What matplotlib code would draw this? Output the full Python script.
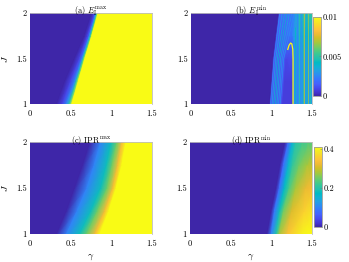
import numpy as np
import matplotlib
matplotlib.use('Agg')
import matplotlib.pyplot as plt
from matplotlib.colors import LinearSegmentedColormap, Normalize
from matplotlib.collections import LineCollection
from matplotlib.cm import ScalarMappable

plt.rcParams['font.family'] = 'serif'
plt.rcParams['font.serif'] = ['cmr10']
plt.rcParams['mathtext.fontset'] = 'cm'
plt.rcParams['axes.formatter.use_mathtext'] = True

# ---------------- data ----------------
gamma_ticks = [0, 0.5, 1, 1.5]
gamma_ticklabels = ['0', '0.5', '1', '1.5']
J_ticks = [1, 1.5, 2]
J_ticklabels = ['1', '1.5', '2']

J_rows = [1.0, 1.25, 1.5, 1.75, 2.0]

# (a) E_I^max : node positions (gamma) per J row and values at them
a_gamma = [[0, 0.33, 0.40, 0.45, 0.485, 0.515, 1.5],
           [0, 0.43, 0.50, 0.55, 0.57, 0.595, 1.5],
           [0, 0.55, 0.61, 0.64, 0.655, 0.675, 1.5],
           [0, 0.67, 0.71, 0.73, 0.745, 0.76, 1.5],
           [0, 0.76, 0.795, 0.81, 0.822, 0.837, 1.5]]
a_val = [[0, 0, 0.0009, 0.0025, 0.005, 0.011, 0.011]] * 5

# (b) E_I^min background field
b_gamma = [[0, 0.975, 0.99, 1.11, 1.14, 1.255, 1.275, 1.5],
           [0, 0.995, 1.01, 1.13, 1.16, 1.255, 1.275, 1.5],
           [0, 1.015, 1.03, 1.15, 1.18, 1.255, 1.275, 1.5],
           [0, 1.05, 1.065, 1.20, 1.22, 1.255, 1.275, 1.5],
           [0, 1.085, 1.10, 1.25, 1.265, 1.28, 1.30, 1.5]]
b_val = [[0, 0, 0.0014, 0.0014, 0.0007, 0.0007, 0.0026, 0.0033],
         [0, 0, 0.0014, 0.0014, 0.0007, 0.0007, 0.0026, 0.0033],
         [0, 0, 0.0014, 0.0014, 0.0009, 0.0011, 0.0026, 0.0033],
         [0, 0, 0.0015, 0.0018, 0.0020, 0.0022, 0.0028, 0.0040],
         [0, 0, 0.0016, 0.0020, 0.0022, 0.0026, 0.0032, 0.0050]]
# (b) ring stripes (left band): gamma at J = 1, 1.5, 2
b_ring_J = [1.0, 1.5, 2.0]
b_ring_gamma = [[0.985, 1.03, 1.10],
                [1.005, 1.05, 1.13],
                [1.025, 1.07, 1.16],
                [1.045, 1.09, 1.19],
                [1.065, 1.11, 1.22],
                [1.085, 1.13, 1.25],
                [1.105, 1.15, 1.28]]
b_ring_val = [0.0025, 0.0033, 0.0038, 0.004, 0.0035, 0.003, 0.0027]
# (b) vertical stripes at the right
b_vert_gamma = [1.29, 1.31, 1.335, 1.36, 1.385, 1.405, 1.43, 1.455, 1.48]
b_vert_top = [1.85, 2.0, 2.0, 2.0, 2.0, 2.0, 2.0, 2.0, 2.0]
b_vert_val = [0.0042, 0.0025, 0.0048, 0.003, 0.0052, 0.0072, 0.0038, 0.0066, 0.0048]
# (b) bright arch
b_arch_gamma = [1.265, 1.265, 1.262, 1.25, 1.235, 1.215, 1.20]
b_arch_J = [1.0, 1.5, 1.6, 1.66, 1.67, 1.645, 1.60]
b_arch_val = 0.0105

# (c) IPR^max
c_gamma = [[0, 0.33, 0.45, 0.61, 0.70, 0.80, 0.86, 1.5],
           [0, 0.45, 0.58, 0.75, 0.83, 0.92, 0.97, 1.5],
           [0, 0.55, 0.70, 0.87, 0.95, 1.02, 1.06, 1.5],
           [0, 0.65, 0.79, 0.94, 1.01, 1.08, 1.13, 1.5],
           [0, 0.74, 0.87, 1.00, 1.07, 1.13, 1.18, 1.5]]
c_val = [[0, 0, 0.1, 0.18, 0.25, 0.33, 0.41, 0.41]] * 5

# (d) IPR^min
d_gamma = [[0, 0.95, 1.00, 1.06, 1.10, 1.20, 1.38, 1.5],
           [0, 1.00, 1.04, 1.10, 1.15, 1.25, 1.40, 1.5],
           [0, 1.06, 1.10, 1.16, 1.22, 1.30, 1.42, 1.5],
           [0, 1.11, 1.15, 1.21, 1.26, 1.34, 1.44, 1.5],
           [0, 1.17, 1.21, 1.26, 1.30, 1.38, 1.45, 1.5]]
d_val = [[0, 0, 0.10, 0.20, 0.28, 0.34, 0.40, 0.42],
         [0, 0, 0.09, 0.18, 0.25, 0.31, 0.36, 0.38],
         [0, 0, 0.08, 0.17, 0.23, 0.28, 0.32, 0.33],
         [0, 0, 0.08, 0.16, 0.21, 0.25, 0.28, 0.29],
         [0, 0, 0.08, 0.16, 0.20, 0.22, 0.23, 0.24]]

E_lim = (0, 0.01)
E_ticks = [0, 0.005, 0.01]
E_ticklabels = ['0', '0.005', '0.01']
IPR_lim = (0, 0.41)
IPR_ticks = [0, 0.2, 0.4]
IPR_ticklabels = ['0', '0.2', '0.4']

titles = ['(a) $E_{\\mathrm{I}}^{\\mathrm{max}}$',
          '(b) $E_{\\mathrm{I}}^{\\mathrm{min}}$',
          '(c) $\\mathrm{IPR}^{\\mathrm{max}}$',
          '(d) $\\mathrm{IPR}^{\\mathrm{min}}$']

# ---------------- colormap (parula) ----------------
parula_rgb = [
    (0.2422, 0.1504, 0.6603), (0.2706, 0.2147, 0.8364), (0.2813, 0.3006, 0.9414),
    (0.2699, 0.3892, 0.9906), (0.2206, 0.4603, 0.9973), (0.1764, 0.5499, 0.9520),
    (0.1380, 0.6276, 0.8973), (0.0689, 0.6948, 0.8394), (0.0067, 0.7312, 0.7660),
    (0.1408, 0.7584, 0.6842), (0.2161, 0.7843, 0.5923), (0.3406, 0.8008, 0.4789),
    (0.5044, 0.7993, 0.3480), (0.6720, 0.7793, 0.2227), (0.8203, 0.7498, 0.1535),
    (0.9393, 0.7288, 0.2100), (0.9970, 0.7659, 0.2199), (0.9786, 0.8386, 0.1766),
    (0.9597, 0.9135, 0.1423), (0.9769, 0.9839, 0.0805)]
parula = LinearSegmentedColormap.from_list('parula', parula_rgb, N=256)

# ---------------- figure ----------------
W, H = 349, 262
fig = plt.figure(figsize=(W / 100, H / 100), dpi=100)


def px_axes(x0, x1, ytop, ybot):
    return fig.add_axes([x0 / W, 1 - ybot / H, (x1 - x0) / W, (ybot - ytop) / H])


ax_a = px_axes(30, 152, 13, 104)
ax_b = px_axes(191, 312, 13, 104)
ax_c = px_axes(30, 152, 142, 234)
ax_d = px_axes(190, 312, 142, 234)
cax_b = px_axes(313, 321, 17, 96)
cax_d = px_axes(313.5, 321.5, 147, 227)

normE = Normalize(*E_lim)
normI = Normalize(*IPR_lim)


def field(ax, gam, val, norm):
    X = np.array(gam, dtype=float)
    Y = np.repeat(np.array(J_rows)[:, None], X.shape[1], axis=1)
    C = np.array(val, dtype=float)
    ax.pcolormesh(X, Y, C, shading='gouraud', cmap=parula, norm=norm,
                  rasterized=True, zorder=1)


field(ax_a, a_gamma, a_val, normE)
field(ax_b, b_gamma, b_val, normE)
field(ax_c, c_gamma, c_val, normI)
field(ax_d, d_gamma, d_val, normI)

# (b) overlay structures
segs = [np.column_stack([g, b_ring_J]) for g in b_ring_gamma]
lc = LineCollection(segs, cmap=parula, norm=normE, linewidths=0.5, zorder=2)
lc.set_array(np.array(b_ring_val))
ax_b.add_collection(lc)

vsegs = [[(g, 1.0), (g, t)] for g, t in zip(b_vert_gamma, b_vert_top)]
lc2 = LineCollection(vsegs, cmap=parula, norm=normE, linewidths=0.55, zorder=2)
lc2.set_array(np.array(b_vert_val))
ax_b.add_collection(lc2)

ax_b.plot(b_arch_gamma, b_arch_J, color=parula(normE(b_arch_val)), lw=0.9,
          zorder=3)

for ax, t in zip([ax_a, ax_b, ax_c, ax_d], titles):
    ax.set_xlim(0, 1.5)
    ax.set_ylim(1, 2)
    ax.set_xticks(gamma_ticks)
    ax.set_xticklabels(gamma_ticklabels)
    ax.set_yticks(J_ticks)
    ax.set_yticklabels(J_ticklabels)
    ax.tick_params(length=0, labelsize=6)
    ax.tick_params(axis='x', pad=4)
    ax.tick_params(axis='y', pad=2.5)
    for s in ['left', 'bottom']:
        ax.spines[s].set_visible(False)
    for s in ['top', 'right']:
        ax.spines[s].set_color('#bdbdbd')
        ax.spines[s].set_linewidth(0.6)
    ax.set_title(t, fontsize=6, pad=0, y=0.99)

for ax in [ax_a, ax_c]:
    ax.set_ylabel('$J$', fontsize=7)
    ax.yaxis.set_label_coords(-0.165, 0.5)
for ax in [ax_c, ax_d]:
    ax.set_xlabel('$\\gamma$', fontsize=7)
    ax.xaxis.set_label_coords(0.5, -0.2)

for cax, norm, ticks, labels in [(cax_b, normE, E_ticks, E_ticklabels),
                                 (cax_d, normI, IPR_ticks, IPR_ticklabels)]:
    sm = ScalarMappable(norm=norm, cmap=parula)
    cb = fig.colorbar(sm, cax=cax, ticks=ticks)
    cb.set_ticklabels(labels)
    cb.outline.set_edgecolor('#9a9a9a')
    cb.outline.set_linewidth(0.6)
    cax.tick_params(length=1.5, width=0.4, direction='in', color='#7a7a7a',
                    labelsize=6, pad=1.5)

fig.savefig('out.png', dpi=100)
